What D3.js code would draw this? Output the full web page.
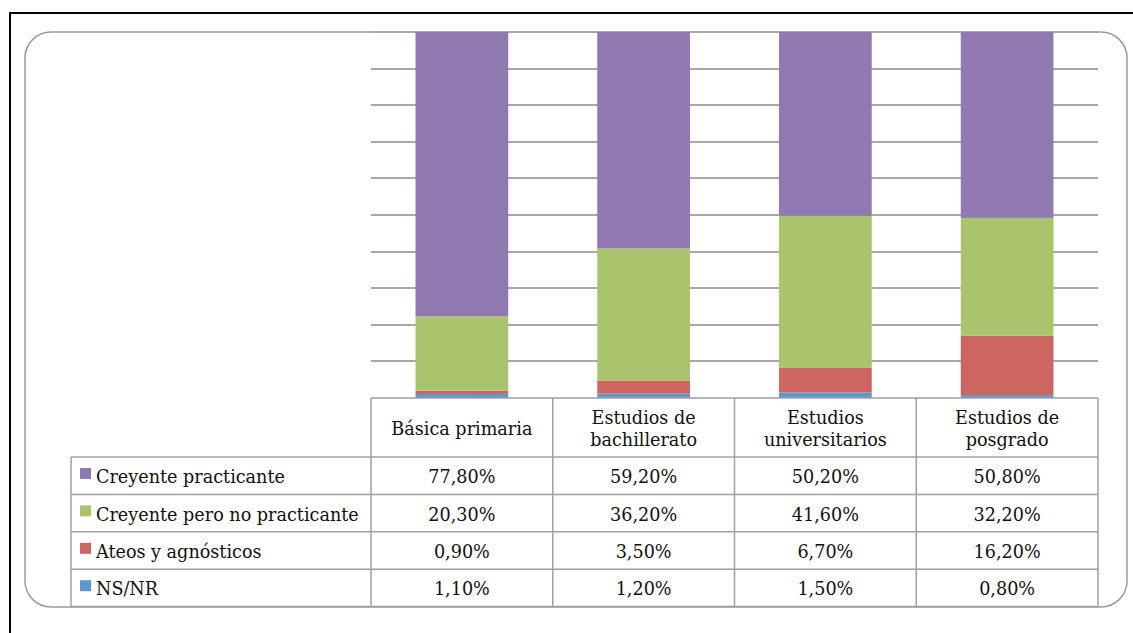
<!DOCTYPE html>
<html>
<head>
<meta charset="utf-8">
<script src="https://cdn.jsdelivr.net/npm/d3@7"></script>
<style>
  body { margin: 0; background: #fff; }
  svg { display: block; }
</style>
</head>
<body>
<svg id="chart" width="1133" height="633"></svg>
<script>
var categories = [["Básica primaria"], ["Estudios de", "bachillerato"], ["Estudios", "universitarios"], ["Estudios de", "posgrado"]];
var seriesNames = ["Creyente practicante", "Creyente pero no practicante", "Ateos y agnósticos", "NS/NR"];
var practicante = [77.8, 59.2, 50.2, 50.8];
var noPracticante = [20.3, 36.2, 41.6, 32.2];
var ateos = [0.9, 3.5, 6.7, 16.2];
var nsnr = [1.1, 1.2, 1.5, 0.8];
var gridTicks = [0, 0.1, 0.2, 0.3, 0.4, 0.5, 0.6, 0.7, 0.8, 0.9, 1];

var colors = {"Creyente practicante": "#9079b1", "Creyente pero no practicante": "#a9c46c",
              "Ateos y agnósticos": "#cd6560", "NS/NR": "#6095cd"};
var valuesBy = {"Creyente practicante": practicante, "Creyente pero no practicante": noPracticante,
                "Ateos y agnósticos": ateos, "NS/NR": nsnr};

var svg = d3.select("#chart");
var font = "'DejaVu Serif', serif";

// marco exterior
svg.append("line").attr("x1", 9).attr("x2", 1133).attr("y1", 13).attr("y2", 13)
    .attr("stroke", "#000").attr("stroke-width", 2);
svg.append("line").attr("x1", 10).attr("x2", 10).attr("y1", 12).attr("y2", 633)
    .attr("stroke", "#000").attr("stroke-width", 2);

// recuadro redondeado
svg.append("rect").attr("x", 25).attr("y", 32).attr("width", 1102).attr("height", 575)
    .attr("rx", 26).attr("fill", "none").attr("stroke", "#9a9a9a").attr("stroke-width", 1.5);

var plotLeft = 371, plotRight = 1098, plotTop = 32, plotBottom = 398;

var rows = categories.map(function(c, i) {
  var r = {cat: i};
  seriesNames.forEach(function(s) { r[s] = valuesBy[s][i]; });
  return r;
});

var x = d3.scaleBand().domain(d3.range(categories.length)).range([plotLeft, plotRight]).paddingInner(0).paddingOuter(0);
var y = d3.scaleLinear().domain([0, 1]).range([plotBottom, plotTop]);

// lineas de cuadricula
svg.append("g")
  .selectAll("line")
  .data(gridTicks.slice(1))
  .enter().append("line")
    .attr("x1", plotLeft).attr("x2", plotRight)
    .attr("y1", function(d) { return Math.round(y(d)); })
    .attr("y2", function(d) { return Math.round(y(d)); })
    .attr("stroke", "#a8a8a8").attr("stroke-width", 2);

var stack = d3.stack().keys(seriesNames.slice().reverse()).offset(d3.stackOffsetExpand);
var barW = x.bandwidth() * 0.51;

svg.append("g").selectAll("g")
  .data(stack(rows))
  .enter().append("g")
    .attr("fill", function(d) { return colors[d.key]; })
  .selectAll("rect")
  .data(function(d) { return d; })
  .enter().append("rect")
    .attr("x", function(d) { return x(d.data.cat) + (x.bandwidth() - barW) / 2; })
    .attr("y", function(d) { return y(d[1]); })
    .attr("height", function(d) { return y(d[0]) - y(d[1]); })
    .attr("width", barW);

// tabla de datos
var tableLeft = 71, headerH = 59, rowH = 37.4;
var tb = svg.append("g").attr("font-family", font).attr("font-size", 17.6).attr("fill", "#111");
var grid = "#a0a0a0";

// cabecera
categories.forEach(function(lines, i) {
  var cx = x(i) + x.bandwidth() / 2;
  var t = tb.append("text").attr("text-anchor", "middle");
  var y0 = plotBottom + headerH / 2 - (lines.length - 1) * 10.5 + 7;
  lines.forEach(function(l, j) {
    t.append("tspan").attr("x", cx).attr("y", y0 + j * 21.5).text(l);
  });
});

var fmt = function(v) { return v.toFixed(2).replace(".", ",") + "%"; };

seriesNames.forEach(function(s, r) {
  var ry = plotBottom + headerH + r * rowH;
  tb.append("rect").attr("x", tableLeft + 9).attr("y", ry + 11).attr("width", 11).attr("height", 11)
    .attr("fill", colors[s]);
  tb.append("text").attr("x", tableLeft + 25).attr("y", ry + rowH / 2 + 7.5).text(s);
  valuesBy[s].forEach(function(v, i) {
    tb.append("text").attr("x", x(i) + x.bandwidth() / 2).attr("y", ry + rowH / 2 + 7.5)
      .attr("text-anchor", "middle").text(fmt(v));
  });
});

// bordes de la tabla
var tableBottom = plotBottom + headerH + 4 * rowH;
var lines = svg.append("g").attr("stroke", grid).attr("stroke-width", 1.5);
lines.append("line").attr("x1", plotLeft).attr("x2", plotRight).attr("y1", plotBottom).attr("y2", plotBottom);
d3.range(5).forEach(function(r) {
  var ry = plotBottom + headerH + r * rowH;
  lines.append("line").attr("x1", tableLeft).attr("x2", plotRight).attr("y1", ry).attr("y2", ry);
});
lines.append("line").attr("x1", tableLeft).attr("x2", tableLeft).attr("y1", plotBottom + headerH).attr("y2", tableBottom);
x.domain().concat([categories.length]).forEach(function(i) {
  var xx = i < categories.length ? x(i) : plotRight;
  lines.append("line").attr("x1", xx).attr("x2", xx).attr("y1", plotBottom).attr("y2", tableBottom);
});
</script>
</body>
</html>
